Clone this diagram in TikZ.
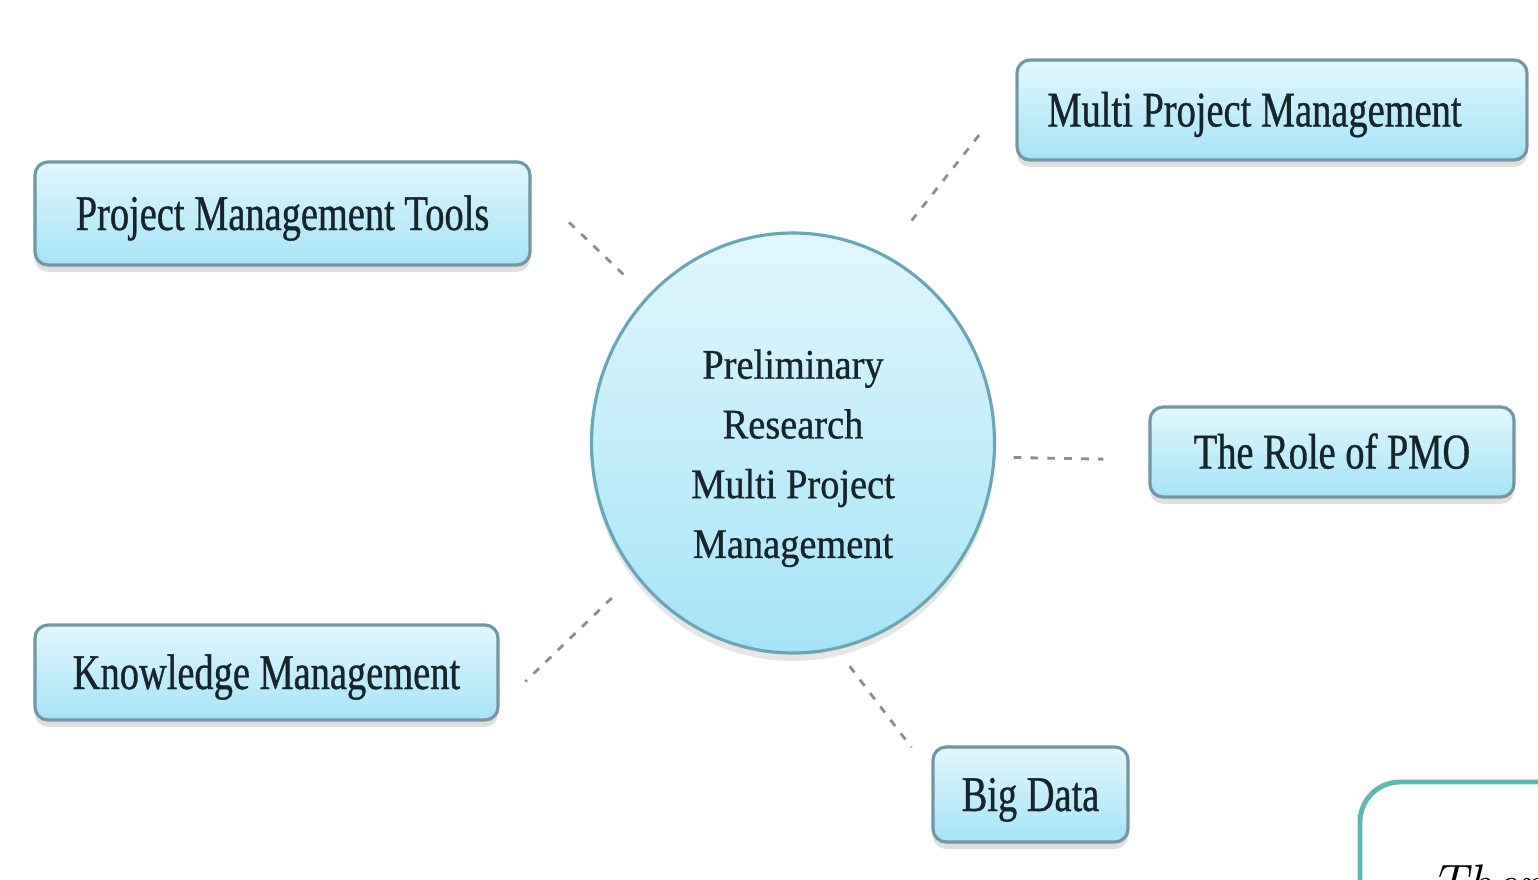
\documentclass[tikz,border=0pt]{standalone}
\usepackage{fontspec}
\newfontfamily\boxfont{Liberation Serif}[FakeStretch=0.77, FakeBold=0.7]
\newfontfamily\hubfont{Liberation Serif}[FakeStretch=0.91, FakeBold=0.7]
\usetikzlibrary{shapes.geometric,shadows}
\definecolor{boxtop}{HTML}{E2F7FD}
\definecolor{boxbot}{HTML}{A6E3F6}
\definecolor{boxline}{HTML}{7397A2}
\definecolor{ringline}{HTML}{6AA7B6}
\definecolor{dashgrey}{HTML}{8E8E8E}
\definecolor{noteline}{HTML}{5DB8AF}
\definecolor{inktext}{HTML}{17242A}
\tikzset{
  topic/.style={draw=boxline, line width=0.9pt, rounded corners=1.3mm,
    top color=boxtop, bottom color=boxbot, inner sep=0pt,
    text height=3.3mm, text depth=0mm,
    text=inktext, font=\boxfont\fontsize{14.2}{16.5}\selectfont,
    drop shadow={shadow xshift=0mm, shadow yshift=-0.7mm, opacity=0.25}},
  hub/.style={ellipse, draw=ringline, line width=0.9pt,
    top color=boxtop, bottom color=boxbot, inner sep=0pt,
    minimum width=4.03cm, minimum height=4.2cm, align=center,
    text=inktext, font=\hubfont\fontsize{12}{17}\selectfont,
    drop shadow={shadow xshift=0mm, shadow yshift=-0.8mm, opacity=0.2}},
  link/.style={draw=dashgrey, line width=0.8pt, dash pattern=on 2.2pt off 2.6pt}
}
\begin{document}
\begin{tikzpicture}
  \useasboundingbox (0,0) rectangle (15.38,8.79);
  \clip (0,0) rectangle (15.38,8.79);
  % Mitte
  \node[hub] (ctr) at (7.93,4.36)
    {\rule{0pt}{17pt}Preliminary\\Research\\Multi Project\\Management};
  % Themen
  \node[topic, minimum width=4.95cm, minimum height=1.03cm] (pmt) at (2.825,6.655)
    {Project Management Tools};
  \node[topic, minimum width=5.10cm, minimum height=1.00cm] (mpm) at (12.72,7.69)
    {Multi Project Management\hspace*{3.5mm}};
  \node[topic, minimum width=3.64cm, minimum height=0.90cm] (pmo) at (13.32,4.27)
    {The Role of PMO};
  \node[topic, minimum width=4.63cm, minimum height=0.95cm] (km) at (2.665,2.065)
    {Knowledge Management};
  \node[topic, minimum width=1.95cm, minimum height=0.95cm] (bd) at (10.305,0.845)
    {Big Data};
  % Verbindungen
  \draw[link, shorten <=0.32cm, shorten >=0.47cm]
    (ctr.135) -- ([yshift=2.7mm]pmt.east);
  \draw[link, shorten <=0.43cm, shorten >=0.50cm]
    (ctr.64) -- ([yshift=2.1mm]mpm.west);
  \draw[link, shorten <=0.18cm, shorten >=0.45cm]
    (ctr.-4) -- ([yshift=-0.8mm]pmo.west);
  \draw[link, shorten <=0.32cm, shorten >=0.36cm]
    (ctr.220) -- ([yshift=-3.4mm]km.east);
  \draw[link, shorten <=0.21cm, shorten >=0.33cm]
    (ctr.282) -- ([yshift=2.1mm]bd.west);
  % Notiz (angeschnitten)
  \draw[noteline, line width=1.4pt, rounded corners=4mm]
    (13.60,-0.6) rectangle (16.2,0.97);
  \node[anchor=base west, inner sep=0pt, font=\fontsize{15}{18}\selectfont\itshape]
    (note) at (14.30,-0.22) {Them};
\end{tikzpicture}
\end{document}
